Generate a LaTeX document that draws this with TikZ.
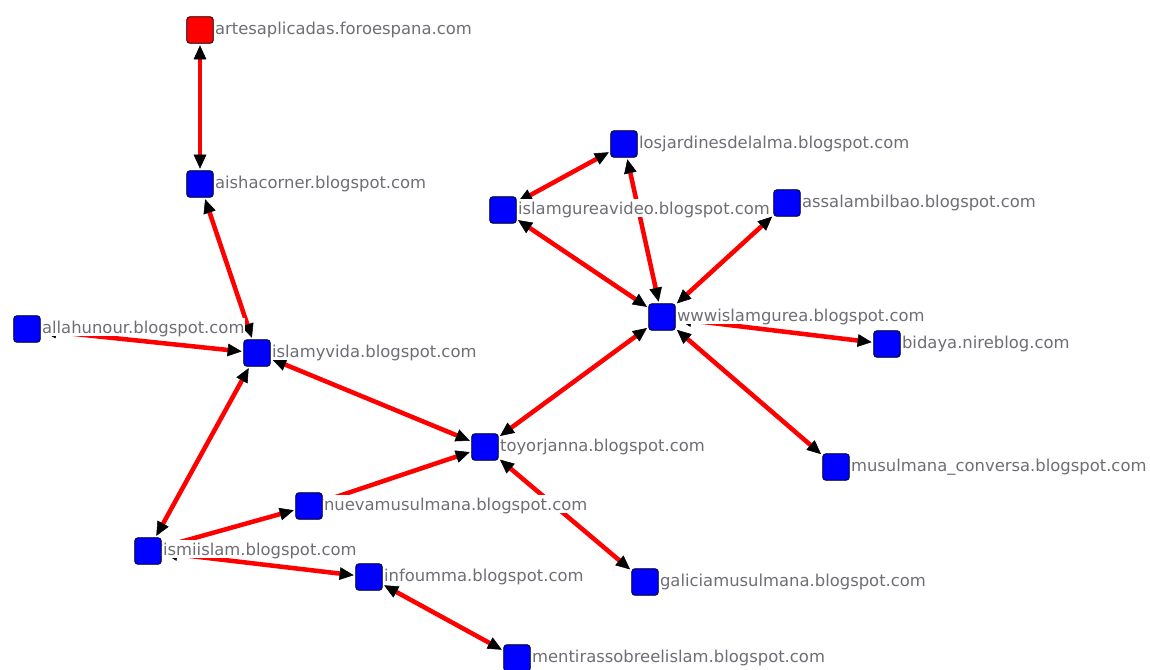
\documentclass[tikz,border=0pt]{standalone}
\usepackage{fontspec}
\setmainfont{DejaVu Sans}
\usetikzlibrary{arrows.meta,backgrounds}
\definecolor{edgered}{RGB}{255,0,0}
\definecolor{nodeblue}{RGB}{0,0,255}
\definecolor{labelgray}{RGB}{110,110,118}
\begin{document}
\begin{tikzpicture}[x=0.75pt,y=-0.75pt,
  site/.style={draw=black, line width=0.6pt, fill=nodeblue, rounded corners=2.5pt,
    minimum size=20pt, inner sep=0pt},
  hub/.style={site, fill=edgered},
  lbl/.style={anchor=base west, fill=white, inner xsep=0.3pt, inner ysep=0pt,
    text height=11.5pt, text depth=2.6pt, text=labelgray,
    font=\fontsize{12.3pt}{14pt}\selectfont},
  link/.style={draw=edgered, line width=3.4pt, shorten <=1.2pt, shorten >=1.2pt},
  bi/.style={link, {Triangle[length=10.5pt,width=9.5pt,color=black,line width=0.4pt]}-{Triangle[length=10.5pt,width=9.5pt,color=black,line width=0.4pt]}},
  uni/.style={link, -{Triangle[length=10.5pt,width=9.5pt,color=black,line width=0.4pt]}}
]
\useasboundingbox (0,0) rectangle (1150,669);

% nodes
\node[hub]  (artes)   at (200,30)  {};
\node[site] (aisha)   at (200,184) {};
\node[site] (allah)   at (27,329)  {};
\node[site] (isv)     at (257,353) {};
\node[site] (toyor)   at (485,447) {};
\node[site] (nueva)   at (309,506) {};
\node[site] (ismi)    at (148,551) {};
\node[site] (infou)   at (369,577) {};
\node[site] (mentir)  at (517,658) {};
\node[site] (galicia) at (645,582) {};
\node[site] (musul)   at (836,467) {};
\node[site] (bidaya)  at (887,344) {};
\node[site] (www)     at (662,317) {};
\node[site] (assalam) at (787,203) {};
\node[site] (igv)     at (503,210) {};
\node[site] (losj)    at (624,144) {};

% labels
\node[lbl] (Lartes)   at ([xshift=0.5pt,yshift=-3pt]artes.east)   {artesaplicadas.foroespana.com};
\node[lbl] (Laisha)   at ([xshift=0.5pt,yshift=-3pt]aisha.east)   {aishacorner.blogspot.com};
\node[lbl] (Lallah)   at ([xshift=0.5pt,yshift=-3pt]allah.east)   {allahunour.blogspot.com};
\node[lbl] (Lisv)     at ([xshift=0.5pt,yshift=-3pt]isv.east)     {islamyvida.blogspot.com};
\node[lbl] (Ltoyor)   at ([xshift=0.5pt,yshift=-3pt]toyor.east)   {toyorjanna.blogspot.com};
\node[lbl] (Lnueva)   at ([xshift=0.5pt,yshift=-3pt]nueva.east)   {nuevamusulmana.blogspot.com};
\node[lbl] (Lismi)    at ([xshift=0.5pt,yshift=-3pt]ismi.east)    {ismiislam.blogspot.com};
\node[lbl] (Linfou)   at ([xshift=0.5pt,yshift=-3pt]infou.east)   {infoumma.blogspot.com};
\node[lbl] (Lmentir)  at ([xshift=0.5pt,yshift=-3pt]mentir.east)  {mentirassobreelislam.blogspot.com};
\node[lbl] (Lgalicia) at ([xshift=0.5pt,yshift=-3pt]galicia.east) {galiciamusulmana.blogspot.com};
\node[lbl] (Lmusul)   at ([xshift=0.5pt,yshift=-3pt]musul.east)   {musulmana\_conversa.blogspot.com};
\node[lbl] (Lbidaya)  at ([xshift=0.5pt,yshift=-3pt]bidaya.east)  {bidaya.nireblog.com};
\node[lbl] (Lwww)     at ([xshift=0.5pt,yshift=-3pt]www.east)     {wwwislamgurea.blogspot.com};
\node[lbl] (Lassalam) at ([xshift=0.5pt,yshift=-3pt]assalam.east) {assalambilbao.blogspot.com};
\node[lbl] (Ligv)     at ([xshift=0.5pt,yshift=-3pt]igv.east)     {islamgureavideo.blogspot.com};
\node[lbl] (Llosj)    at ([xshift=0.5pt,yshift=-3pt]losj.east)    {losjardinesdelalma.blogspot.com};

% edges
\begin{pgfonlayer}{background}
\draw[bi]  (artes) -- (aisha);
\draw[bi]  (isv) -- (aisha);
\draw[bi]  (allah) -- (isv);
\draw[bi]  (isv) -- (toyor);
\draw[bi]  (isv) -- (ismi);
\draw[uni] (ismi) -- (nueva);
\draw[bi]  (ismi) -- (infou);
\draw[uni] (nueva) -- (toyor);
\draw[bi]  (infou) -- (mentir);
\draw[bi]  (toyor) -- (galicia);
\draw[bi]  (toyor) -- (www);
\draw[bi]  (www) -- (igv);
\draw[bi]  (www) -- (losj);
\draw[bi]  (igv) -- (losj);
\draw[bi]  (www) -- (assalam);
\draw[bi]  (www) -- (bidaya);
\draw[bi]  (www) -- (musul);
\end{pgfonlayer}
\end{tikzpicture}
\end{document}
